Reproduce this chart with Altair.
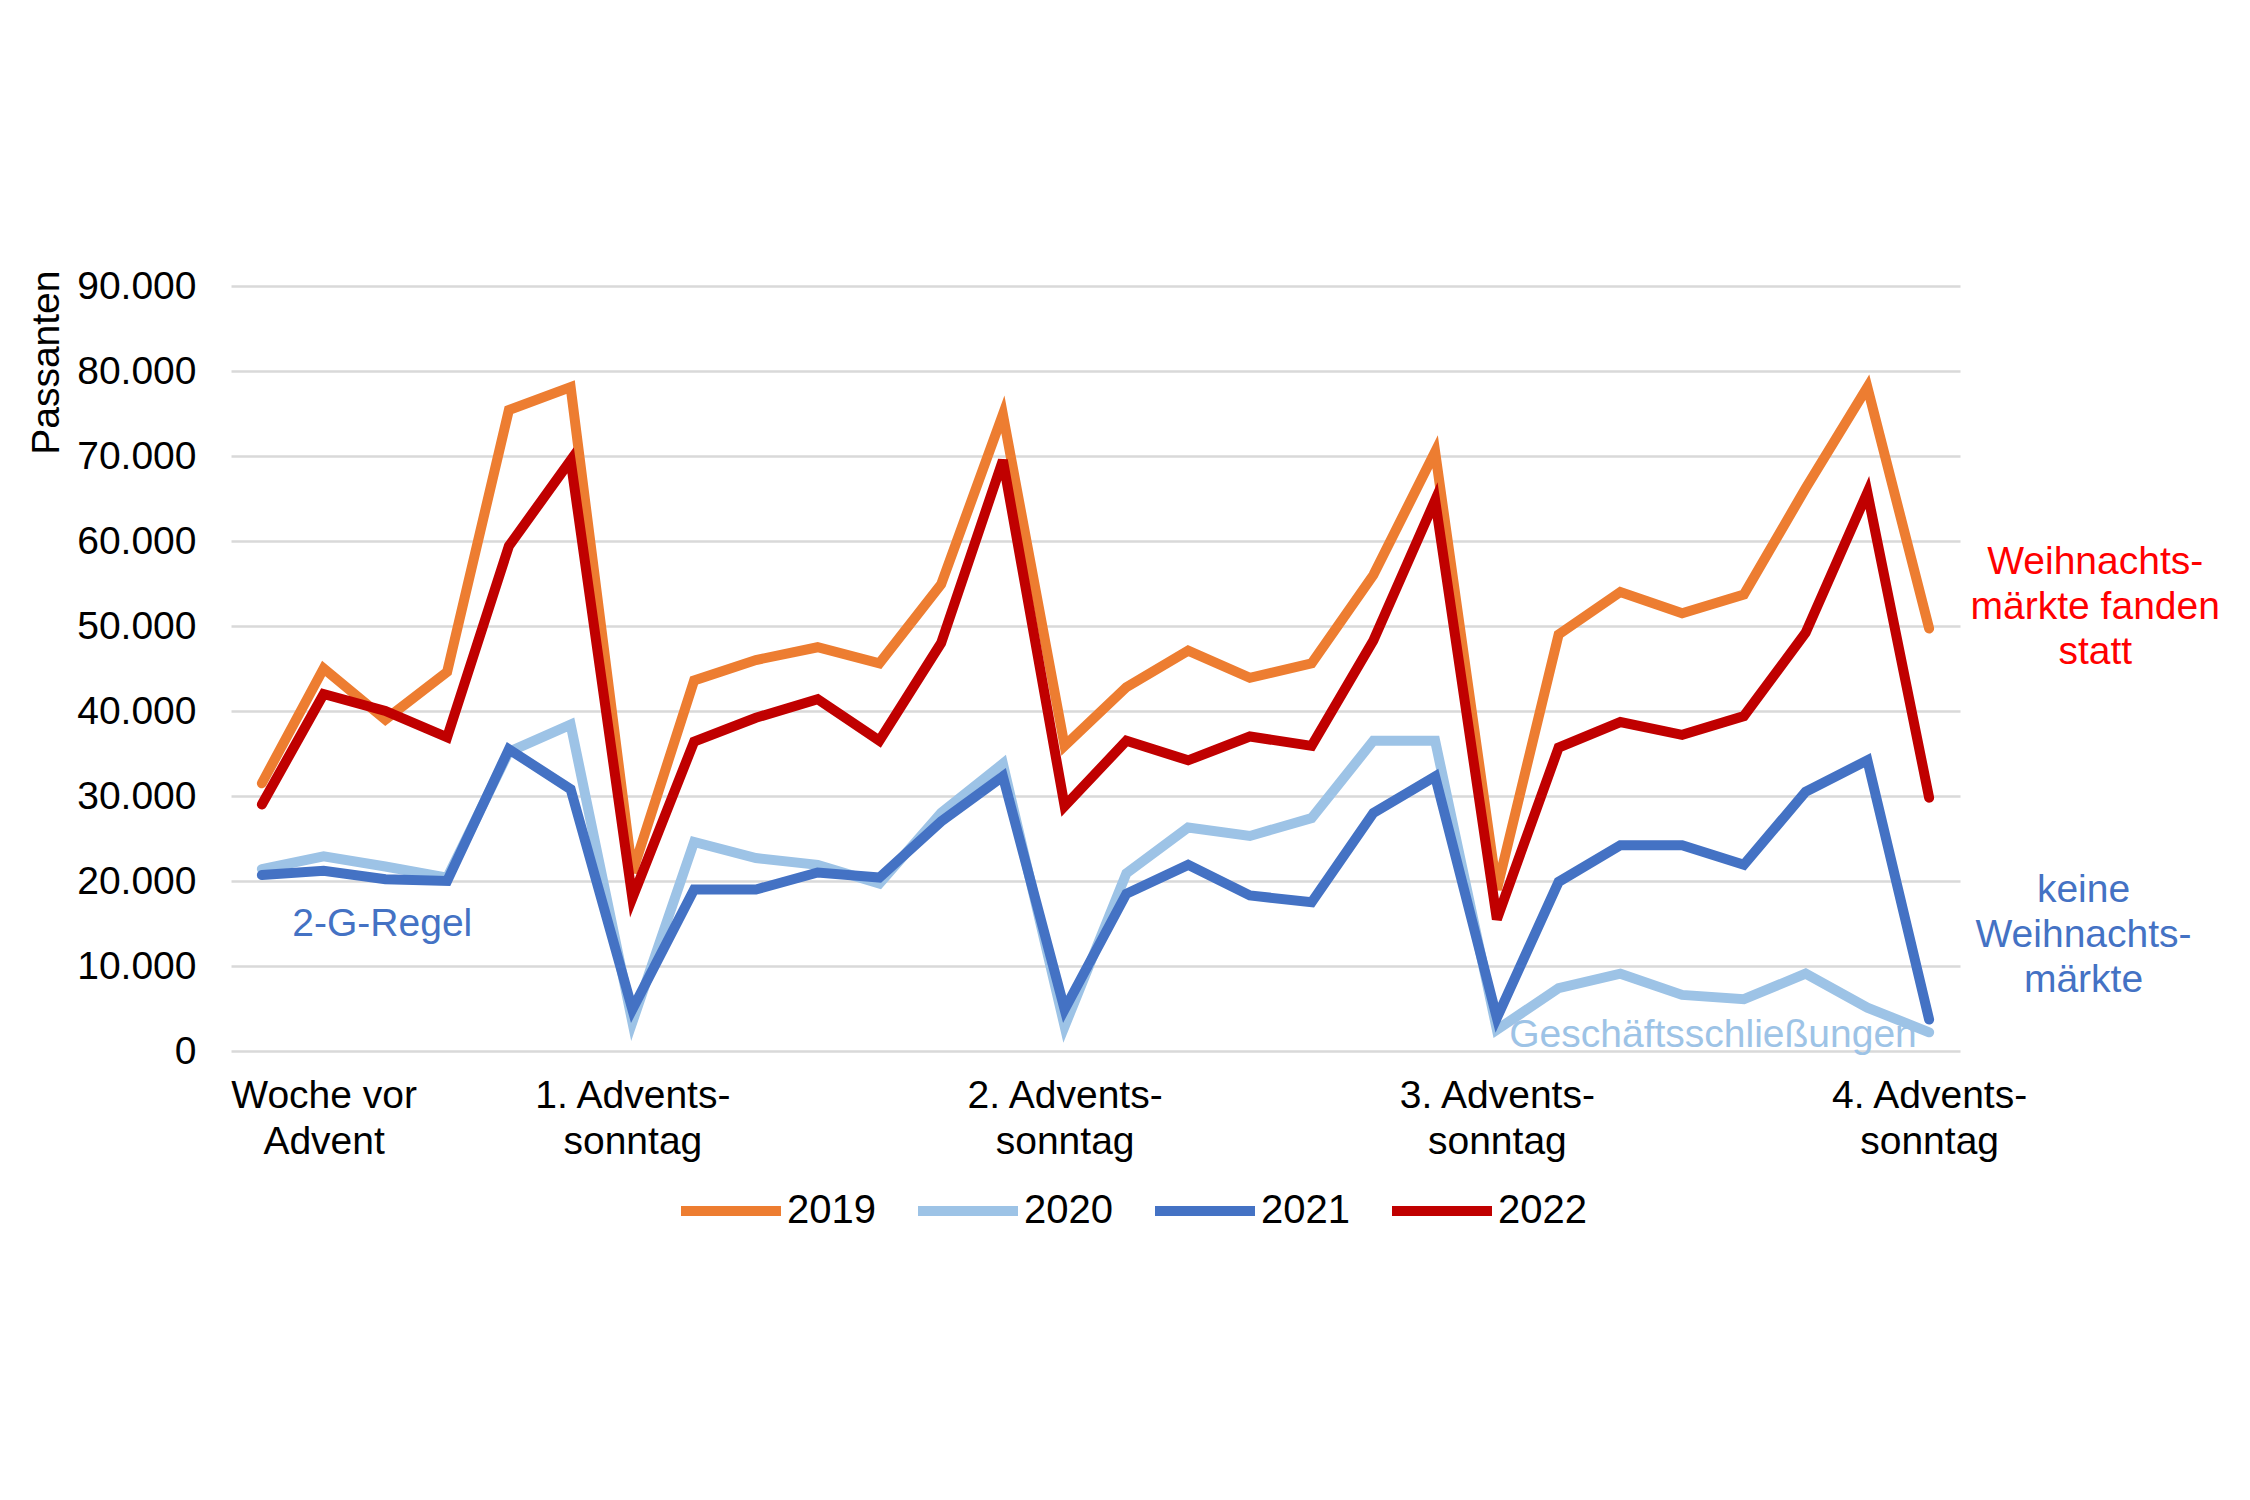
import altair as alt
import pandas as pd

years = ["2019", "2020", "2021", "2022"]
colors = ["#ED7D31", "#9DC3E6", "#4472C4", "#C00000"]

v2019 = [31500, 45000, 39000, 44600, 75400, 78100, 21000, 43600, 46000, 47500, 45600, 54900, 74900, 35900,
         42800, 47100, 43900, 45600, 56000, 70500, 19000, 49000, 54000, 51500, 53700, 66200, 78100, 49700]
v2020 = [21400, 22900, 21700, 20400, 35200, 38400, 3400, 24600, 22700, 21900, 19700, 28000, 33800, 2900,
         20900, 26300, 25300, 27400, 36500, 36500, 2500, 7400, 9100, 6600, 6100, 9100, 5100, 2200]
v2021 = [20700, 21200, 20200, 20000, 35500, 30800, 4900, 19000, 19000, 21000, 20400, 27000, 32300, 4900,
         18500, 21900, 18300, 17500, 28000, 32300, 3900, 19900, 24200, 24200, 21900, 30500, 34200, 3700]
v2022 = [29000, 42000, 40000, 36900, 59400, 69500, 18000, 36400, 39200, 41400, 36500, 48000, 69500, 28800,
         36500, 34200, 37000, 35900, 48300, 64800, 15500, 35700, 38700, 37200, 39400, 49200, 65700, 29800]

tick_positions = [1, 6, 13, 20, 27]
tick_labels = ["Woche vor|Advent", "1. Advents-|sonntag", "2. Advents-|sonntag",
               "3. Advents-|sonntag", "4. Advents-|sonntag"]

ann_text = ["2-G-Regel", "Weihnachts-\nmärkte fanden\nstatt", "keine\nWeihnachts-\nmärkte", "Geschäftsschließungen"]
ann_x = [1.95, 29.69, 29.50, 20.2]
ann_y = [14900, 57500, 19000, 1870]
ann_color = ["#4472C4", "#FF0000", "#4472C4", "#9DC3E6"]
ann_align = ["center", "center", "center", "left"]

rows = []
for yr, vals in zip(years, [v2019, v2020, v2021, v2022]):
    for i, v in enumerate(vals):
        rows.append({"idx": i, "value": v, "year": yr})
df = pd.DataFrame(rows)

label_map = "{" + ",".join(f"'{p}': '{l}'" for p, l in zip(tick_positions, tick_labels)) + "}"

FONT = "Liberation Sans"

x_enc = alt.X("idx:Q",
              scale=alt.Scale(domain=[-0.5, 27.5], nice=False, zero=False),
              axis=alt.Axis(values=tick_positions, title=None, grid=False, domain=False, ticks=False,
                            labelFlush=False, labelOverlap=False, labelPadding=25, labelLimit=0,
                            labelFontSize=39, labelFont=FONT, labelColor="#000000",
                            labelLineHeight=46, labelBaseline="top",
                            labelExpr=f"split({label_map}[toString(datum.value)], '|')"))
y_enc = alt.Y("value:Q",
              scale=alt.Scale(domain=[0, 90000], nice=False),
              axis=alt.Axis(values=list(range(0, 90001, 10000)), title="Passanten",
                            titleFontSize=39, titleFont=FONT, titleFontWeight="normal", titleColor="#000000",
                            titleAngle=-90, titleAlign="right", titleBaseline="middle",
                            titleX=-185, titleY=-16,
                            grid=True, gridColor="#D9D9D9", gridWidth=2.5,
                            domain=False, ticks=False, labelPadding=35,
                            labelFontSize=39, labelFont=FONT, labelColor="#000000",
                            labelExpr="replace(format(datum.value, ','), ',', '.')"))

lines = alt.Chart(df).mark_line(strokeWidth=10, strokeJoin="miter", strokeCap="round").encode(
    x=x_enc,
    y=y_enc,
    color=alt.Color("year:N",
                    scale=alt.Scale(domain=years, range=colors),
                    legend=alt.Legend(title=None, orient="none", direction="horizontal",
                                      legendX=445, legendY=870, padding=0,
                                      symbolType="stroke", symbolSize=10000, symbolStrokeWidth=10,
                                      labelFontSize=40, labelFont=FONT, labelColor="#000000",
                                      labelOffset=1, columnPadding=22)),
    order="idx:Q",
)

ann_df = pd.DataFrame({"text": ann_text, "x": ann_x, "y": ann_y, "color": ann_color, "align": ann_align})

ann_center = alt.Chart(ann_df[ann_df["align"] == "center"]).mark_text(
    fontSize=39, font=FONT, align="center", baseline="middle", lineBreak="\n", lineHeight=45
).encode(x="x:Q", y="y:Q", text="text:N", color=alt.Color("color:N", scale=None))

ann_left = alt.Chart(ann_df[ann_df["align"] == "left"]).mark_text(
    fontSize=39, font=FONT, align="left", baseline="middle"
).encode(x="x:Q", y="y:Q", text="text:N", color=alt.Color("color:N", scale=None))

chart = alt.layer(lines, ann_center, ann_left).properties(
    width=1729, height=765,
    autosize=alt.AutoSizeParams(type="none"),
    padding={"left": 223, "top": 278, "right": 270, "bottom": 420},
    background="#FFFFFF",
).configure_view(stroke=None)

chart.save("out.html", embed_options={"renderer": "svg", "actions": False})
